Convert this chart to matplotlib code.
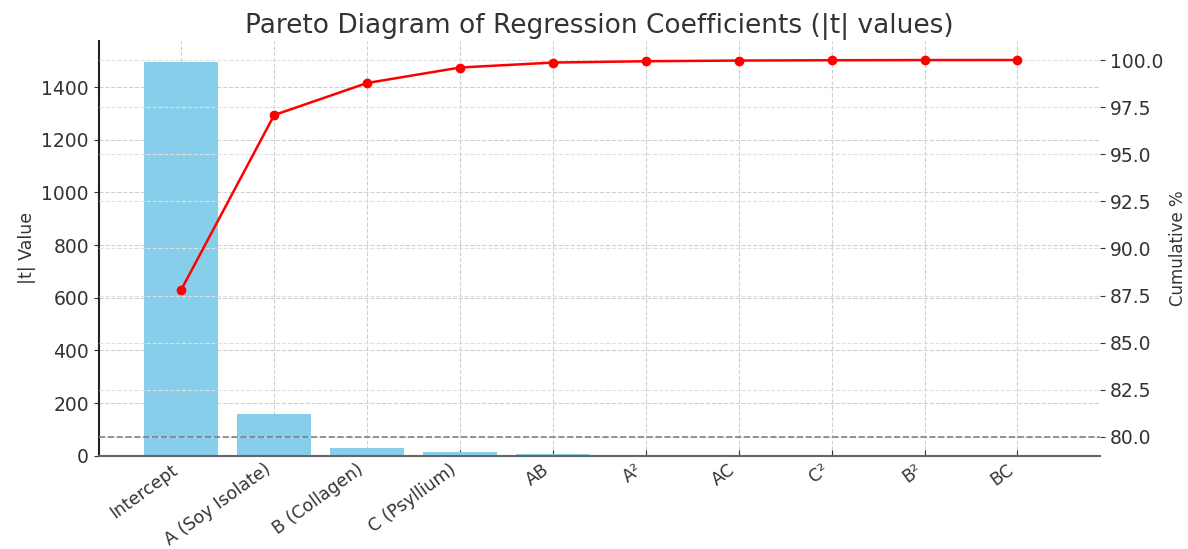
import numpy as np
import matplotlib.pyplot as plt

# Коефіцієнти регресії та їх |t| значення
terms = ['Intercept', 'A (Soy Isolate)', 'B (Collagen)', 'C (Psyllium)',
         'AB', 'A²', 'AC', 'C²', 'B²', 'BC']
t_values = [1497, 158, 29, 14, 4.5, 1.2, 0.6, 0.3, 0.15, 0.05]

text_color = '#333333'
plt.rcParams['text.color'] = text_color
plt.rcParams['axes.labelcolor'] = text_color
plt.rcParams['xtick.color'] = text_color
plt.rcParams['ytick.color'] = text_color

t = np.array(t_values)
cum_pct = np.cumsum(t) / t.sum() * 100
x = np.arange(len(terms))

fig, ax = plt.subplots(figsize=(11.88, 5.49), dpi=100)
fig.subplots_adjust(left=0.083, right=0.926, top=0.925, bottom=0.17)

ax.bar(x, t, color='skyblue', width=0.8)
ax.set_ylim(0, 1575)
ax.set_ylabel('|t| Value', fontsize=12.5)
ax.set_xticks(x)
ax.set_xticklabels(terms, rotation=36, ha='right', rotation_mode='default', fontsize=12.5)
ax.tick_params(axis='y', labelsize=13.5)
ax.tick_params(axis='x', direction='in', length=4)
ax.grid(True, linestyle='--', color='#d0d0d0', linewidth=0.8)
ax.set_axisbelow(True)
for s in ['top', 'right']:
    ax.spines[s].set_visible(False)
ax.spines['bottom'].set_color('#666666')
ax.spines['bottom'].set_linewidth(1.5)
ax.spines['left'].set_color('#222222')
ax.spines['left'].set_linewidth(1.5)

ax2 = ax.twinx()
ax2.plot(x, cum_pct, color='red', marker='o', linewidth=1.8, markersize=6)
ax2.axhline(80, color='gray', linestyle='--', linewidth=1.2)
ax2.set_ylabel('Cumulative %', fontsize=12)
ax2.tick_params(axis='y', labelsize=13.5)
ax2.grid(True, axis='y', linestyle='--', color='#e0e0e0', linewidth=0.8)
for s in ['top', 'right', 'left', 'bottom']:
    ax2.spines[s].set_visible(False)

ax.set_title('Pareto Diagram of Regression Coefficients (|t| values)', fontsize=19)

fig.savefig('out.png', dpi=100)
